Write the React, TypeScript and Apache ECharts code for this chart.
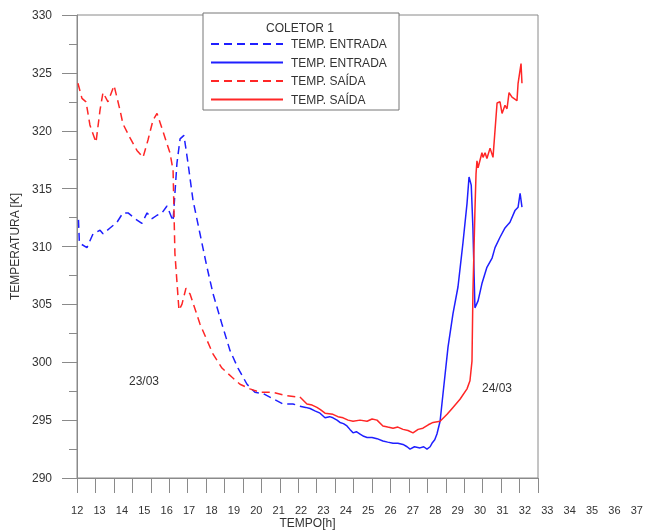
import React, { useEffect, useRef } from 'react';
import * as echarts from 'echarts';

// [hour, temperature K]
const entradaTracejada: [number, number][] = [
  [12.08, 312.3], [12.13, 310.3], [12.54, 309.9], [12.87, 311.1], [13.25, 311.4], [13.41, 311.1],
  [13.79, 311.6], [14.17, 312.1], [14.49, 312.9], [14.77, 312.9], [15.15, 312.4], [15.52, 312.0],
  [15.8, 312.9], [16.07, 312.4], [16.34, 312.7], [16.61, 312.9], [16.88, 313.5], [17.21, 312.2],
  [17.42, 317.2], [17.59, 319.3], [17.8, 319.6], [18.02, 317.2], [18.29, 314.0], [18.67, 311.1],
  [19.05, 308.2], [19.38, 305.9], [19.86, 303.3], [20.3, 301.0], [20.73, 299.5], [21.22, 298.1],
  [21.65, 297.4], [22.09, 297.3], [22.57, 296.9], [23.17, 296.4], [23.71, 296.4], [24.09, 296.2],
];

const entradaContinua: [number, number][] = [
  [24.09, 296.2], [24.4, 296.1], [24.64, 296.0], [24.9, 295.8], [25.18, 295.6], [25.45, 295.2],
  [25.7, 295.3], [25.88, 295.2], [26.1, 295.0], [26.26, 294.8], [26.45, 294.7], [26.64, 294.5],
  [26.8, 294.2], [26.97, 293.9], [27.15, 294.0], [27.35, 293.8], [27.55, 293.6], [27.73, 293.5],
  [28.0, 293.5], [28.27, 293.4], [28.59, 293.2], [28.85, 293.1], [29.14, 293.0], [29.4, 293.0],
  [29.68, 292.9], [29.9, 292.7], [30.06, 292.5], [30.3, 292.7], [30.6, 292.6], [30.8, 292.7],
  [30.98, 292.5], [31.15, 292.7], [31.25, 293.0], [31.4, 293.3], [31.52, 293.8], [31.69, 294.9],
  [31.85, 297.3], [32.12, 301.3], [32.39, 304.2], [32.66, 306.5], [32.93, 310.3], [33.15, 313.7],
  [33.26, 316.0], [33.38, 315.3], [33.47, 311.6], [33.58, 304.7], [33.75, 305.3], [33.96, 306.8],
  [34.23, 308.2], [34.51, 309.0], [34.67, 309.9], [34.94, 310.8], [35.21, 311.6], [35.48, 312.1],
  [35.75, 313.1], [35.92, 313.4], [36.03, 314.6], [36.13, 313.4],
];

const saidaTracejada: [number, number][] = [
  [12.05, 324.1], [12.27, 322.8], [12.49, 322.5], [12.7, 320.5], [13.03, 319.0], [13.25, 321.8],
  [13.41, 323.3], [13.68, 322.5], [14.01, 323.9], [14.33, 321.8], [14.49, 320.6], [14.87, 319.4],
  [15.25, 318.3], [15.58, 317.7], [15.85, 319.2], [16.12, 320.9], [16.34, 321.5], [16.61, 320.2],
  [17.04, 318.1], [17.21, 316.6], [17.31, 309.4], [17.53, 304.5], [17.69, 305.0], [17.91, 306.4],
  [18.13, 305.9], [18.67, 303.3], [19.05, 301.9], [19.38, 300.7], [19.86, 299.5], [20.41, 298.7],
  [20.84, 298.1], [21.38, 297.7], [21.92, 297.4], [22.63, 297.4], [23.39, 297.1], [23.93, 297.0],
  [24.09, 297.0],
];

const saidaContinua: [number, number][] = [
  [24.09, 297.0], [24.47, 296.4], [24.75, 296.3], [25.01, 296.1], [25.2, 295.9], [25.45, 295.6],
  [25.88, 295.5], [26.15, 295.3], [26.43, 295.2], [26.7, 295.0], [26.97, 294.9], [27.35, 295.0],
  [27.73, 294.9], [28.0, 295.1], [28.27, 295.0], [28.59, 294.5], [28.85, 294.4], [29.14, 294.3],
  [29.4, 294.4], [29.68, 294.2], [29.95, 294.1], [30.22, 293.9], [30.5, 294.2], [30.76, 294.3],
  [31.05, 294.6], [31.31, 294.8], [31.69, 294.9], [32.07, 295.5], [32.39, 296.1], [32.77, 296.8],
  [33.15, 297.7], [33.31, 298.4], [33.42, 300.1], [33.47, 305.9], [33.58, 313.1], [33.64, 316.3],
  [33.69, 317.4], [33.75, 316.8], [33.96, 318.1], [34.02, 317.7], [34.13, 318.1], [34.23, 317.6],
  [34.4, 318.5], [34.56, 317.7], [34.78, 322.4], [34.94, 322.5], [35.05, 321.5], [35.21, 322.2],
  [35.32, 321.9], [35.43, 323.3], [35.59, 322.9], [35.86, 322.6], [35.92, 324.1], [36.08, 325.8],
  [36.13, 324.1],
];

const xTickLabels = [
  '12', '13', '14', '15', '16', '17', '18', '19', '20', '21', '22', '23', '24',
  '25', '26', '27', '28', '29', '30', '31', '32', '33', '34', '35', '36', '37',
];

const legendTitle = 'COLETOR 1';
const legendLabels: Record<string, string> = {
  entradaTracejada: 'TEMP. ENTRADA',
  entradaContinua: 'TEMP. ENTRADA',
  saidaTracejada: 'TEMP. SAÍDA',
  saidaContinua: 'TEMP. SAÍDA',
};
const dateLabels = ['23/03', '24/03'];

const FONT = '"Liberation Sans", Arial, sans-serif';
const AXIS_COLOR = '#8a8a8a';
const TEXT_COLOR = '#333';
const BLUE = '#1f1fff';
const RED = '#ff2626';

export default function App() {
  const ref = useRef<HTMLDivElement>(null);
  useEffect(() => {
    const chart = echarts.init(ref.current!, null, { renderer: 'svg' });
    const lineSeries = (name: string, data: [number, number][], color: string, dashed: boolean) => ({
      name,
      type: 'line',
      xAxisIndex: 0,
      yAxisIndex: 0,
      data,
      showSymbol: false,
      symbol: 'none',
      lineStyle: { color, width: 1.5, type: dashed ? [8, 5] : 'solid' },
      itemStyle: { color },
      z: 3,
    });
    chart.setOption({
      animation: false,
      textStyle: { fontFamily: FONT },
      grid: [
        {
          left: 77, right: 107, top: 15, bottom: 53, show: true, borderColor: AXIS_COLOR, borderWidth: 1,
          containLabel: false, outerBoundsMode: 'none',
        },
        { left: 66, width: 582, top: 15, bottom: 53, show: false, containLabel: false, outerBoundsMode: 'none' },
      ],
      xAxis: [
        {
          type: 'value', gridIndex: 0, min: 12, max: 37, interval: 1,
          name: 'TEMPO[h]', nameLocation: 'middle', nameGap: 39,
          nameTextStyle: { fontSize: 12, color: TEXT_COLOR, fontFamily: FONT },
          axisLine: { show: true, lineStyle: { color: AXIS_COLOR } },
          axisTick: { show: true, inside: false, length: 15, lineStyle: { color: AXIS_COLOR } },
          axisLabel: { show: false },
          splitLine: { show: false },
        },
        {
          type: 'category', gridIndex: 1, data: xTickLabels, boundaryGap: true,
          axisLine: { show: false }, axisTick: { show: false },
          axisLabel: { show: true, interval: 0, margin: 26, fontSize: 11, color: TEXT_COLOR, fontFamily: FONT },
          splitLine: { show: false },
        },
      ],
      yAxis: [
        {
          type: 'value', gridIndex: 0, min: 290, max: 330, interval: 5,
          name: 'TEMPERATURA [K]', nameLocation: 'middle', nameGap: 49, nameRotate: 90,
          nameTextStyle: { fontSize: 12, color: TEXT_COLOR, fontFamily: FONT },
          axisLine: { show: true, lineStyle: { color: AXIS_COLOR } },
          axisTick: { show: true, inside: false, length: 15, lineStyle: { color: AXIS_COLOR } },
          minorTick: { show: true, splitNumber: 2, length: 8, lineStyle: { color: AXIS_COLOR } },
          axisLabel: { margin: 25, fontSize: 12, color: TEXT_COLOR, fontFamily: FONT },
          splitLine: { show: false },
          minorSplitLine: { show: false },
        },
        { type: 'value', gridIndex: 1, show: false },
      ],
      legend: {
        orient: 'vertical', left: 210, top: 37, itemWidth: 72, itemHeight: 14, itemGap: 4.5,
        padding: 0, z: 20, selectedMode: false,
        itemStyle: { opacity: 0 },
        data: ['entradaTracejada', 'entradaContinua', 'saidaTracejada', 'saidaContinua'],
        formatter: (name: string) => legendLabels[name],
        textStyle: { fontSize: 12, color: TEXT_COLOR, fontFamily: FONT, padding: [0, 0, 0, 3], lineHeight: 14 },
      },
      graphic: [
        {
          type: 'rect', z: 10, shape: { x: 203, y: 13, width: 196, height: 97 },
          style: { fill: '#fff', stroke: '#777', lineWidth: 1 },
        },
        {
          type: 'text', z: 11, x: 300, y: 28,
          style: { text: legendTitle, fill: TEXT_COLOR, font: `12px ${FONT}`, textAlign: 'center', textVerticalAlign: 'middle' },
        },
        {
          type: 'text', z: 11, x: 144, y: 381,
          style: { text: dateLabels[0], fill: TEXT_COLOR, font: `12px ${FONT}`, textAlign: 'center', textVerticalAlign: 'middle' },
        },
        {
          type: 'text', z: 11, x: 497, y: 388,
          style: { text: dateLabels[1], fill: TEXT_COLOR, font: `12px ${FONT}`, textAlign: 'center', textVerticalAlign: 'middle' },
        },
      ],
      series: [
        lineSeries('entradaTracejada', entradaTracejada, BLUE, true),
        lineSeries('entradaContinua', entradaContinua, BLUE, false),
        lineSeries('saidaTracejada', saidaTracejada, RED, true),
        lineSeries('saidaContinua', saidaContinua, RED, false),
      ],
    });
    return () => chart.dispose();
  }, []);
  return <div ref={ref} style={{ position: 'fixed', left: 0, top: 0, width: 645, height: 531 }} />;
}
